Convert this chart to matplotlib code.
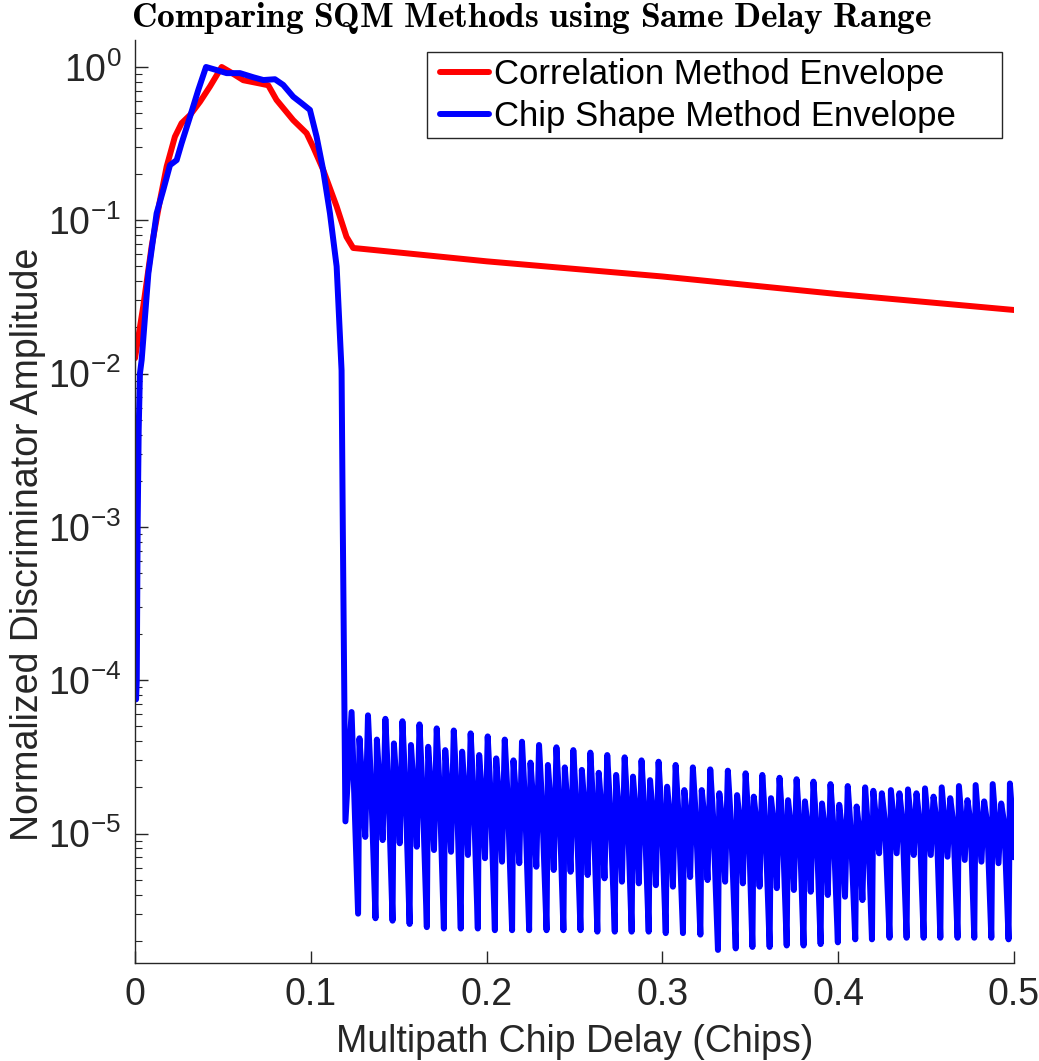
import numpy as np
import matplotlib
matplotlib.use('Agg')
import matplotlib.pyplot as plt
from matplotlib import font_manager
from matplotlib.patches import Rectangle
from matplotlib.ticker import FixedLocator, NullFormatter, LogLocator

# ---------------- data ----------------
red_x = [0.0, 0.0047, 0.0095, 0.0142, 0.018, 0.0227, 0.0265, 0.0313, 0.037, 0.0426,
         0.0493, 0.054, 0.0616, 0.0711, 0.0758, 0.0805, 0.09, 0.0976, 0.1014, 0.107,
         0.1147, 0.1203, 0.1241, 0.13, 0.2, 0.3, 0.4, 0.5]
red_y = [0.0126, 0.0275, 0.068, 0.135, 0.224, 0.351, 0.43, 0.486, 0.594, 0.745,
         1.0, 0.93, 0.82, 0.78, 0.76, 0.61, 0.45, 0.37, 0.30, 0.214,
         0.123, 0.078, 0.066, 0.065, 0.054, 0.043, 0.033, 0.026]

blue_main_x = [0.0006, 0.0010, 0.0013, 0.0015, 0.0021, 0.0028, 0.0038, 0.0076, 0.0123,
               0.0161, 0.0199, 0.0237, 0.0265, 0.0313, 0.036, 0.0404, 0.0464, 0.0521,
               0.0597, 0.0673, 0.073, 0.0796, 0.0843, 0.09, 0.0948, 0.0995, 0.1033,
               0.107, 0.1109, 0.1147, 0.1175, 0.1182, 0.1190, 0.1197, 0.1232]
blue_main_y = [7.5e-5, 1.0e-4, 3.5e-4, 1.0e-3, 4.3e-3, 1.0e-2, 1.23e-2, 0.045, 0.111,
               0.158, 0.229, 0.247, 0.318, 0.474, 0.708, 1.0, 0.955, 0.912,
               0.912, 0.857, 0.822, 0.832, 0.764, 0.64, 0.58, 0.525, 0.351,
               0.214, 0.111, 0.050, 0.0105, 1.0e-3, 1.0e-4, 1.2e-5, 6.2e-5]

# delays of the deep dips in the oscillating tail, and the levels of each cycle
dip_x = [0.1269, 0.1368, 0.1465, 0.1562, 0.1660, 0.1757, 0.1853, 0.1950, 0.2047, 0.2145,
         0.2242, 0.2341, 0.2437, 0.2534, 0.2630, 0.2729, 0.2825, 0.2922, 0.3019, 0.3117,
         0.3216, 0.3316, 0.3417, 0.3512, 0.3610, 0.3707, 0.3803, 0.3900, 0.3998, 0.4097,
         0.4192, 0.4292, 0.4389, 0.4486, 0.4581, 0.4679, 0.4774, 0.4871, 0.4969]
deep_dip = [3.0e-6, 2.8e-6, 2.7e-6, 2.57e-6, 2.45e-6, 2.4e-6, 2.4e-6, 2.4e-6, 2.34e-6, 2.34e-6,
            2.34e-6, 2.34e-6, 2.34e-6, 2.34e-6, 2.29e-6, 2.29e-6, 2.29e-6, 2.29e-6, 2.24e-6, 2.24e-6,
            2.19e-6, 1.74e-6, 1.78e-6, 1.82e-6, 1.82e-6, 1.86e-6, 1.86e-6, 1.9e-6, 1.95e-6, 2.04e-6,
            2.04e-6, 2.09e-6, 2.09e-6, 2.09e-6, 2.09e-6, 2.09e-6, 2.09e-6, 2.09e-6, 2.04e-6]
upper_dip = [9.5e-6, 9.06e-6, 8.63e-6, 8.2e-6, 7.8e-6, 7.6e-6, 7.24e-6, 6.9e-6, 6.55e-6, 6.4e-6,
             6.07e-6, 5.78e-6, 5.63e-6, 5.36e-6, 5.1e-6, 4.85e-6, 4.73e-6, 4.6e-6, 4.5e-6, 5.2e-6,
             4.97e-6, 4.85e-6, 4.73e-6, 4.5e-6, 4.4e-6, 4.28e-6, 4.17e-6, 3.97e-6, 3.87e-6, 3.68e-6,
             7.43e-6, 7.43e-6, 7.24e-6, 7.24e-6, 7.06e-6, 6.72e-6, 6.55e-6, 6.4e-6, 6.23e-6]
band_mid = [2.1e-5, 2.0e-5, 1.95e-5, 1.9e-5, 1.85e-5, 1.8e-5, 1.75e-5, 1.7e-5, 1.65e-5, 1.6e-5,
            1.55e-5, 1.5e-5, 1.47e-5, 1.43e-5, 1.4e-5, 1.36e-5, 1.33e-5, 1.3e-5, 1.27e-5, 1.25e-5,
            1.22e-5, 1.2e-5, 1.18e-5, 1.15e-5, 1.13e-5, 1.1e-5, 1.08e-5, 1.06e-5, 1.04e-5, 1.02e-5,
            1.2e-5, 1.2e-5, 1.2e-5, 1.2e-5, 1.18e-5, 1.18e-5, 1.16e-5, 1.16e-5, 1.15e-5]
peak_a = [4.18e-5, 4.1e-5, 3.87e-5, 3.78e-5, 3.68e-5, 3.5e-5, 3.42e-5, 3.25e-5, 3.09e-5, 3.0e-5,
          2.9e-5, 2.8e-5, 2.7e-5, 2.6e-5, 2.49e-5, 2.41e-5, 2.35e-5, 2.23e-5, 2.02e-5, 1.92e-5,
          1.92e-5, 1.83e-5, 1.78e-5, 1.74e-5, 1.7e-5, 1.65e-5, 1.62e-5, 1.57e-5, 1.54e-5, 1.5e-5,
          1.9e-5, 1.92e-5, 1.94e-5, 1.97e-5, 2.0e-5, 2.04e-5, 2.07e-5, 2.1e-5, 2.12e-5]
peak_b = [5.9e-5, 5.6e-5, 5.4e-5, 5.15e-5, 4.85e-5, 4.7e-5, 4.5e-5, 4.3e-5, 4.1e-5, 3.97e-5,
          3.78e-5, 3.65e-5, 3.5e-5, 3.37e-5, 3.25e-5, 3.14e-5, 3.0e-5, 2.94e-5, 2.8e-5, 2.7e-5,
          2.62e-5, 2.57e-5, 2.47e-5, 2.41e-5, 2.31e-5, 2.26e-5, 2.18e-5, 2.1e-5, 2.04e-5, 2.0e-5,
          1.83e-5, 1.83e-5, 1.83e-5, 1.74e-5, 1.7e-5, 1.65e-5, 1.62e-5, 1.57e-5, 1.55e-5]
blue_end_x = 0.5
blue_end_y = 7.0e-6

x_ticks = [0, 0.1, 0.2, 0.3, 0.4, 0.5]
x_tick_labels = ['0', '0.1', '0.2', '0.3', '0.4', '0.5']
y_ticks = [1e-5, 1e-4, 1e-3, 1e-2, 1e-1, 1e0]
y_tick_labels = [r'$\mathregular{10^{-5}}$', r'$\mathregular{10^{-4}}$', r'$\mathregular{10^{-3}}$',
                 r'$\mathregular{10^{-2}}$', r'$\mathregular{10^{-1}}$', r'$\mathregular{10^{0}}$']

title_text = r'$\mathbf{Comparing\ SQM\ Methods\ using\ Same\ Delay\ Range}$'
x_label = 'Multipath Chip Delay (Chips)'
y_label = 'Normalized Discriminator Amplitude'
legend_labels = ['Correlation Method Envelope', 'Chip Shape Method Envelope']

# ---------------- assemble the blue series ----------------
period = float(np.median(np.diff(dip_x)))
blue_x = list(blue_main_x)
blue_y = list(blue_main_y)
cycle_shape = ((0.0, deep_dip), (0.08, peak_a), (0.25, band_mid), (0.42, upper_dip),
               (0.58, peak_b), (0.76, band_mid))
for k in range(len(dip_x)):
    for frac, vals in cycle_shape:
        xx = dip_x[k] + frac * period
        if xx < blue_end_x:
            blue_x.append(xx)
            blue_y.append(vals[k])
blue_x.append(blue_end_x)
blue_y.append(blue_end_y)

# ---------------- fonts ----------------
available = {f.name for f in font_manager.fontManager.ttflist}
narrow = 'Liberation Sans Narrow' if 'Liberation Sans Narrow' in available else 'Liberation Sans'
plt.rcParams['font.family'] = [narrow, 'DejaVu Sans']
plt.rcParams['mathtext.fontset'] = 'cm'

axis_color = '#262626'
W, H = 1039, 1061

fig = plt.figure(figsize=(W / 100, H / 100), dpi=100)
ax = fig.add_axes([135 / W, 1 - 963 / H, (1014 - 135) / W, (963 - 40) / H])

ax.plot(red_x, red_y, color='#ff0000', lw=4.3, solid_joinstyle='round', solid_capstyle='round',
        label=legend_labels[0])
ax.plot(blue_x, blue_y, color='#0000ff', lw=4.3, solid_joinstyle='round', solid_capstyle='round',
        label=legend_labels[1])

ax.set_yscale('log')
ax.set_xlim(0, 0.5)
ax.set_ylim(1.43e-6, 1.5)

ax.set_xticks(x_ticks)
ax.set_xticklabels(x_tick_labels)
ax.yaxis.set_major_locator(FixedLocator(y_ticks))
ax.set_yticklabels(y_tick_labels)
ax.yaxis.set_minor_locator(LogLocator(base=10, subs=np.arange(2, 10), numticks=20))
ax.yaxis.set_minor_formatter(NullFormatter())

for s in ('top', 'right'):
    ax.spines[s].set_visible(False)
for s in ('left', 'bottom'):
    ax.spines[s].set_color(axis_color)
    ax.spines[s].set_linewidth(1.0)

ax.tick_params(axis='both', which='major', direction='in', length=9, width=1.0,
               colors=axis_color, labelsize=27, pad=10)
ax.tick_params(axis='y', which='minor', direction='in', length=5, width=0.8, colors=axis_color)
for lbl in ax.get_yticklabels():
    lbl.set_family(['Liberation Sans', 'DejaVu Sans'])
    lbl.set_fontsize(27)

ax.set_xlabel(x_label, fontsize=27, color=axis_color, labelpad=8)
ax.set_ylabel(y_label, fontsize=27, color=axis_color)
ax.yaxis.set_label_coords((46 - 135) / (1014 - 135), (963 - 544) / (963 - 40))

fig.text(531 / W, 1 - 27 / H, title_text, fontsize=25.5, ha='center', va='baseline')

leg = ax.legend(loc='upper left', bbox_to_anchor=(440 / W, 1 - 58 / H),
                bbox_transform=fig.transFigure, fontsize=25, frameon=False,
                handlelength=1.4, handletextpad=0.15, borderpad=0.0, labelspacing=0.25,
                borderaxespad=0)
for t in leg.get_texts():
    t.set_family(['Liberation Sans', 'DejaVu Sans'])
leg.set_zorder(6)
# legend frame as in the reference (wider right margin)
frame = Rectangle((427 / W, 1 - 138 / H), (1002 - 427) / W, (138 - 52) / H,
                  transform=fig.transFigure, facecolor='white', edgecolor=axis_color,
                  lw=1.0, zorder=5, clip_on=False)
ax.add_patch(frame)

fig.savefig('out.png', dpi=100)
